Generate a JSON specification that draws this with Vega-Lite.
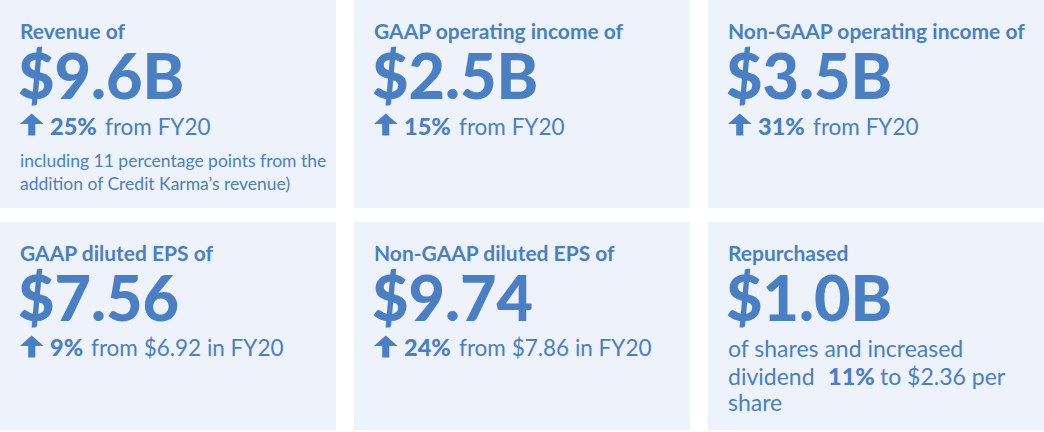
{
  "$schema": "https://vega.github.io/schema/vega-lite/v6.json",
  "width": 1044,
  "height": 430,
  "padding": 0,
  "autosize": {"type": "none"},
  "background": "#ffffff",
  "config": {"view": {"stroke": null}, "text": {"font": "Lato", "color": "#4a7fc3", "align": "left", "baseline": "alphabetic"}},
  "data": {"values": [
    {"col": 0, "row": 0, "title": "Revenue of", "value": "$9.6B", "pct": "25%", "change": "from FY20", "note1": "including 11 percentage points from the", "note2": "addition of Credit Karma’s revenue)"},
    {"col": 1, "row": 0, "title": "GAAP operating income of", "value": "$2.5B", "pct": "15%", "change": "from FY20"},
    {"col": 2, "row": 0, "title": "Non-GAAP operating income of", "value": "$3.5B", "pct": "31%", "change": "from FY20"},
    {"col": 0, "row": 1, "title": "GAAP diluted EPS of", "value": "$7.56", "pct": "9%", "change": "from $6.92 in FY20"},
    {"col": 1, "row": 1, "title": "Non-GAAP diluted EPS of", "value": "$9.74", "pct": "24%", "change": "from $7.86 in FY20"},
    {"col": 2, "row": 1, "title": "Repurchased", "value": "$1.0B", "body1": "of shares and increased", "body2a": "dividend", "bold2": "11%", "body2b": "to $2.36 per", "body3": "share"}
  ]},
  "encoding": {
    "x": {"field": "col", "type": "ordinal", "bandPosition": 0, "axis": null, "scale": {"paddingInner": 0.050847, "paddingOuter": 0}},
    "y": {"field": "row", "type": "ordinal", "bandPosition": 0, "axis": null, "scale": {"paddingInner": 0.06306, "paddingOuter": 0}}
  },
  "layer": [
    {"mark": {"type": "rect", "color": "#eef3fb"},
     "encoding": {"x": {"field": "col", "type": "ordinal", "axis": null}, "y": {"field": "row", "type": "ordinal", "axis": null}}},
    {"mark": {"type": "text", "dx": 20, "dy": 39, "fontSize": 21, "fontWeight": "bold"}, "encoding": {"text": {"field": "title"}}},
    {"mark": {"type": "text", "dx": 18, "dy": 99, "fontSize": 63, "fontWeight": 900}, "encoding": {"text": {"field": "value"}}},
    {"transform": [{"filter": "isValid(datum.pct)"}],
     "mark": {"type": "point", "filled": true, "opacity": 1, "color": "#4a7fc3", "size": 560, "shape": "M0,-1 L1,-0.12 L0.3,-0.12 L0.3,0.85 L-0.3,0.85 L-0.3,-0.12 L-1,-0.12 Z"},
     "encoding": {
       "x": {"field": "col", "type": "ordinal", "bandPosition": 0.0945, "axis": null},
       "y": {"field": "row", "type": "ordinal", "bandPosition": 0.603, "axis": null}}},
    {"transform": [{"filter": "isValid(datum.pct)"}],
     "mark": {"type": "text", "dx": 50, "dy": 134.5, "fontSize": 23.5, "fontWeight": 900}, "encoding": {"text": {"field": "pct"}}},
    {"transform": [{"filter": "isValid(datum.pct) && length(datum.pct) == 3"}],
     "mark": {"type": "text", "dx": 105, "dy": 134.5, "fontSize": 22.5}, "encoding": {"text": {"field": "change"}}},
    {"transform": [{"filter": "isValid(datum.pct) && length(datum.pct) == 2"}],
     "mark": {"type": "text", "dx": 91, "dy": 134.5, "fontSize": 22.5}, "encoding": {"text": {"field": "change"}}},
    {"transform": [{"filter": "isValid(datum.note1)"}],
     "mark": {"type": "text", "dx": 20, "dy": 167, "fontSize": 17.5}, "encoding": {"text": {"field": "note1"}}},
    {"transform": [{"filter": "isValid(datum.note2)"}],
     "mark": {"type": "text", "dx": 20, "dy": 189.5, "fontSize": 17.5}, "encoding": {"text": {"field": "note2"}}},
    {"transform": [{"filter": "isValid(datum.body1)"}],
     "mark": {"type": "text", "dx": 20, "dy": 135.5, "fontSize": 23}, "encoding": {"text": {"field": "body1"}}},
    {"transform": [{"filter": "isValid(datum.body2a)"}],
     "mark": {"type": "text", "dx": 20, "dy": 163.5, "fontSize": 23}, "encoding": {"text": {"field": "body2a"}}},
    {"transform": [{"filter": "isValid(datum.bold2)"}],
     "mark": {"type": "text", "dx": 120, "dy": 163.5, "fontSize": 23.5, "fontWeight": 900}, "encoding": {"text": {"field": "bold2"}}},
    {"transform": [{"filter": "isValid(datum.body2b)"}],
     "mark": {"type": "text", "dx": 172, "dy": 163.5, "fontSize": 23}, "encoding": {"text": {"field": "body2b"}}},
    {"transform": [{"filter": "isValid(datum.body3)"}],
     "mark": {"type": "text", "dx": 20, "dy": 189.5, "fontSize": 23}, "encoding": {"text": {"field": "body3"}}}
  ]
}
